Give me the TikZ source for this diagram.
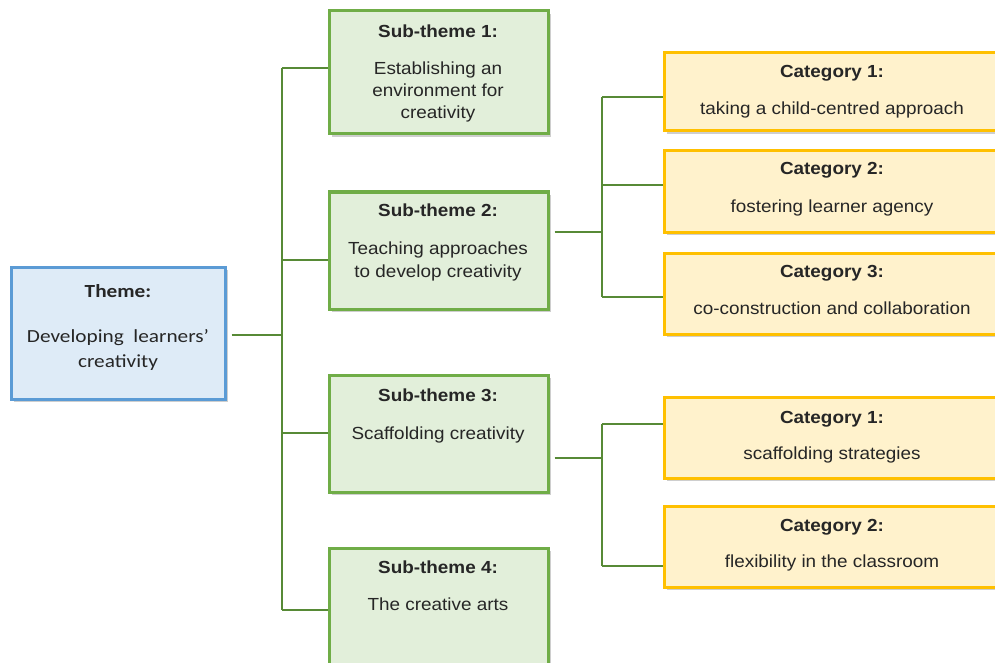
\documentclass[tikz,border=0pt]{standalone}
\usepackage{fontspec}
\setmainfont{Liberation Sans}[FakeStretch=1.08]
\newfontfamily\calfont{Carlito}[FakeStretch=1.15]
\usetikzlibrary{shadows}
\definecolor{thfill}{HTML}{DEEBF7}
\definecolor{thline}{HTML}{5B9BD5}
\definecolor{stfill}{HTML}{E2EFDA}
\definecolor{stline}{HTML}{70AD47}
\definecolor{ctfill}{HTML}{FFF2CC}
\definecolor{ctline}{HTML}{FFC000}
\definecolor{connc}{HTML}{578A36}
\tikzset{
  boxbase/.style={rectangle, inner sep=0pt, line width=3pt,
    drop shadow={shadow xshift=3pt, shadow yshift=-3pt, opacity=0.35, fill=black!55}},
  thbox/.style={boxbase, draw=thline, fill=thfill, minimum width=214pt},
  stbox/.style={boxbase, draw=stline, fill=stfill, minimum width=219pt},
  ctbox/.style={boxbase, draw=ctline, fill=ctfill, minimum width=336pt},
  conn/.style={draw=connc, line width=2.8pt},
  ttl/.style={anchor=base, inner sep=0pt, text=black!85, font=\bfseries\fontsize{17.5}{21}\selectfont},
  txt/.style={anchor=base, inner sep=0pt, text=black!85, font=\fontsize{17.5}{21}\selectfont},
  cttl/.style={anchor=base, inner sep=0pt, text=black!85, font=\calfont\bfseries\fontsize{18.5}{22}\selectfont},
  ctxt/.style={anchor=base, inner sep=0pt, text=black!85, font=\calfont\fontsize{18.5}{22}\selectfont}
}
\begin{document}
\begin{tikzpicture}[x=1pt,y=-1pt]
\useasboundingbox (0,0) rectangle (995,663);
\fill[white] (0,0) rectangle (995,663);

% boxes
\node[thbox, minimum height=132pt] (theme) at (118,333) {};
\node[stbox, minimum height=123pt] (st1) at (438.5,72.5) {};
\node[stbox, minimum height=117pt] (st2) at (438.5,250.5) {};
\node[stbox, minimum height=117pt] (st3) at (438.5,433.5) {};
\node[stbox, minimum height=117pt] (st4) at (438.5,606.5) {};
\node[ctbox, minimum height=78pt] (ca1) at (832,92) {};
\node[ctbox, minimum height=81pt] (ca2) at (832,191.5) {};
\node[ctbox, minimum height=81pt] (ca3) at (832,293.5) {};
\node[ctbox, minimum height=81pt] (cb1) at (832,437.5) {};
\node[ctbox, minimum height=81pt] (cb2) at (832,546.5) {};

% texts
\node[cttl] (themet) at (118,297) {Theme:};
\node[ctxt] (themea) at (118,342) {Developing\ \ learners’};
\node[ctxt] (themeb) at (118,367) {creativity};

\node[ttl] (st1t) at (438,38) {Sub-theme 1:};
\node[txt] (st1a) at (438,75) {Establishing an};
\node[txt] (st1b) at (438,97) {environment for};
\node[txt] (st1c) at (438,119) {creativity};

\node[ttl] (st2t) at (438,216) {Sub-theme 2:};
\node[txt] (st2a) at (438,254) {Teaching approaches};
\node[txt] (st2b) at (438,277) {to develop creativity};

\node[ttl] (st3t) at (438,401) {Sub-theme 3:};
\node[txt] (st3a) at (438,439) {Scaffolding creativity};

\node[ttl] (st4t) at (438,573) {Sub-theme 4:};
\node[txt] (st4a) at (438,610) {The creative arts};

\node[ttl] (ca1t) at (832,78) {Category 1:};
\node[txt] (ca1a) at (832,115) {taking a child-centred approach};
\node[ttl] (ca2t) at (832,175) {Category 2:};
\node[txt] (ca2a) at (832,212) {fostering learner agency};
\node[ttl] (ca3t) at (832,277) {Category 3:};
\node[txt] (ca3a) at (832,314) {co-construction and collaboration};

\node[ttl] (cb1t) at (832,423) {Category 1:};
\node[txt] (cb1a) at (832,459) {scaffolding strategies};
\node[ttl] (cb2t) at (832,531) {Category 2:};
\node[txt] (cb2a) at (832,567) {flexibility in the classroom};

% connectors level 1
\coordinate (j1) at (282,335);
\coordinate (b1) at (282,68);
\coordinate (b2) at (282,260);
\coordinate (b3) at (282,433);
\coordinate (b4) at (282,610);
\draw[conn, shorten <=5pt] (j1 -| theme.east) -- (j1);
\draw[conn] (b1) -- (b4);
\draw[conn] (b1) -- (b1 -| st1.west);
\draw[conn] (b2) -- (b2 -| st2.west);
\draw[conn] (b3) -- (b3 -| st3.west);
\draw[conn] (b4) -- (b4 -| st4.west);

% connectors level 2 (sub-theme 2)
\coordinate (j2) at (602,232);
\coordinate (c1) at (602,97);
\coordinate (c2) at (602,185);
\coordinate (c3) at (602,297);
\draw[conn, shorten <=5pt] (j2 -| st2.east) -- (j2);
\draw[conn] (c1) -- (c3);
\draw[conn] (c1) -- (c1 -| ca1.west);
\draw[conn] (c2) -- (c2 -| ca2.west);
\draw[conn] (c3) -- (c3 -| ca3.west);

% connectors level 2 (sub-theme 3)
\coordinate (j3) at (602,458);
\coordinate (d1) at (602,424);
\coordinate (d2) at (602,566);
\draw[conn, shorten <=5pt] (j3 -| st3.east) -- (j3);
\draw[conn] (d1) -- (d2);
\draw[conn] (d1) -- (d1 -| cb1.west);
\draw[conn] (d2) -- (d2 -| cb2.west);
\end{tikzpicture}
\end{document}
